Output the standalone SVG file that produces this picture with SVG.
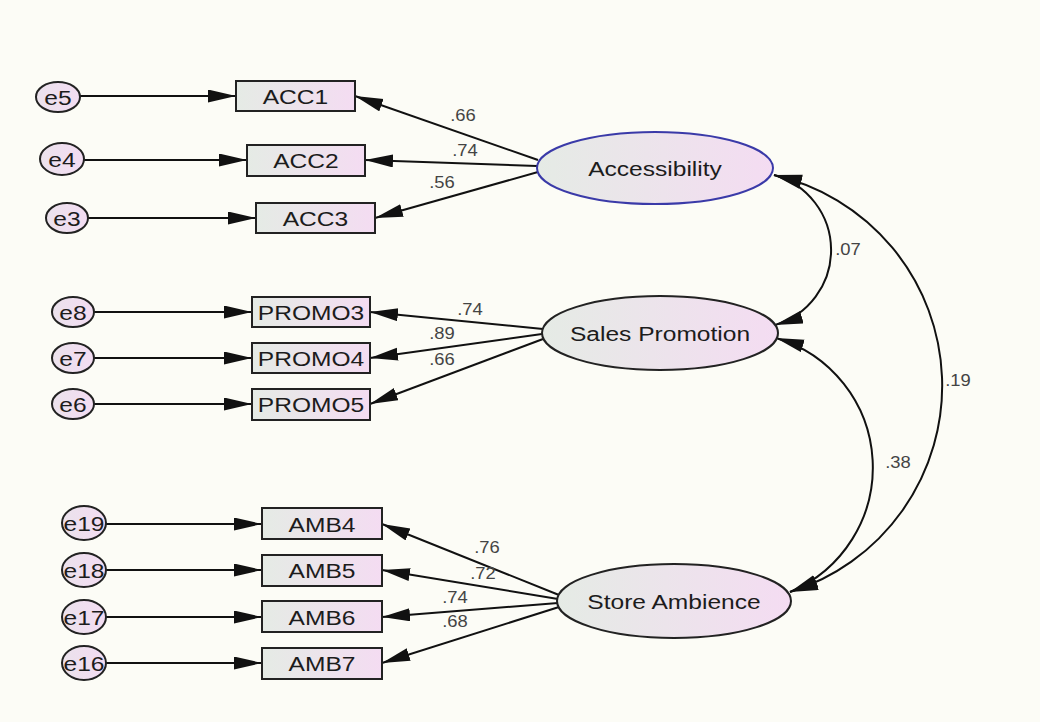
<svg xmlns="http://www.w3.org/2000/svg" width="1040" height="722" viewBox="0 0 1040 722">
  <defs>
    <linearGradient id="nodeFill" x1="0" y1="0" x2="1" y2="0">
      <stop offset="0" stop-color="#e5ebe5"/>
      <stop offset="1" stop-color="#f4dcf2"/>
    </linearGradient>
    <linearGradient id="errFill" x1="0" y1="0" x2="1" y2="0">
      <stop offset="0" stop-color="#ebe2ec"/>
      <stop offset="1" stop-color="#f3dcf2"/>
    </linearGradient>
    <marker id="arrow" markerUnits="userSpaceOnUse" markerWidth="30" markerHeight="14" refX="28" refY="6.5" orient="auto-start-reverse">
      <path d="M0,0 L28,6.5 L0,13 Z" fill="#111"/>
    </marker>
    <style>
      .box { fill: url(#nodeFill); stroke: #222; stroke-width: 2; }
      .latent { fill: url(#nodeFill); stroke: #222; stroke-width: 2; }
      .latent.blue { stroke: #3a3aa8; }
      .err { fill: url(#errFill); stroke: #222; stroke-width: 2; }
      .lbl { font-family: "Liberation Sans", Arial, sans-serif; font-size: 21px; fill: #1c1c1c; text-anchor: middle; }
      .coef { font-family: "Liberation Sans", Arial, sans-serif; font-size: 16px; fill: #444; text-anchor: middle; }
      .path { fill: none; stroke: #111; stroke-width: 2; marker-end: url(#arrow); }
      .cov { fill: none; stroke: #111; stroke-width: 2; marker-start: url(#arrow); marker-end: url(#arrow); }
    </style>
  </defs>

  <rect width="1040" height="722" fill="#fcfcf6"/>

  <!-- connectors: error terms, loadings, covariances -->
  <g id="connectors">
    <line class="path" x1="80" y1="96" x2="236" y2="96"/>
    <line class="path" x1="84" y1="160" x2="247" y2="160"/>
    <line class="path" x1="88" y1="218" x2="256" y2="218"/>
    <line class="path" x1="94" y1="312" x2="252" y2="312"/>
    <line class="path" x1="94" y1="358" x2="252" y2="358"/>
    <line class="path" x1="94" y1="404" x2="252" y2="404"/>
    <line class="path" x1="106" y1="524" x2="262" y2="524"/>
    <line class="path" x1="106" y1="570" x2="262" y2="570"/>
    <line class="path" x1="106" y1="617" x2="262" y2="617"/>
    <line class="path" x1="106" y1="663" x2="262" y2="663"/>

    <line class="path" x1="538" y1="160" x2="355" y2="96"/>
    <line class="path" x1="537" y1="166" x2="365" y2="160"/>
    <line class="path" x1="538" y1="172" x2="375" y2="218"/>

    <line class="path" x1="543" y1="329" x2="370" y2="312"/>
    <line class="path" x1="542" y1="334" x2="370" y2="358"/>
    <line class="path" x1="543" y1="339" x2="370" y2="404"/>

    <line class="path" x1="559" y1="595" x2="382" y2="524"/>
    <line class="path" x1="558" y1="599" x2="382" y2="570"/>
    <line class="path" x1="558" y1="603" x2="382" y2="617"/>
    <line class="path" x1="559" y1="607" x2="382" y2="663"/>

    <path class="cov" d="M774,175 A78,78 0 0 1 775,325"/>
    <path class="cov" d="M776,338 A135,135 0 0 1 790,592"/>
    <path class="cov" d="M774,175 A216,216 0 0 1 790,592"/>

    <text class="coef" transform="translate(463 121) scale(1.15 1)">.66</text>
    <text class="coef" transform="translate(465 156) scale(1.15 1)">.74</text>
    <text class="coef" transform="translate(442 188) scale(1.15 1)">.56</text>
    <text class="coef" transform="translate(470 315) scale(1.15 1)">.74</text>
    <text class="coef" transform="translate(442 339) scale(1.15 1)">.89</text>
    <text class="coef" transform="translate(442 365) scale(1.15 1)">.66</text>
    <text class="coef" transform="translate(487 553) scale(1.15 1)">.76</text>
    <text class="coef" transform="translate(483 579) scale(1.15 1)">.72</text>
    <text class="coef" transform="translate(455 603) scale(1.15 1)">.74</text>
    <text class="coef" transform="translate(455 627) scale(1.15 1)">.68</text>
    <text class="coef" transform="translate(848 255) scale(1.15 1)">.07</text>
    <text class="coef" transform="translate(958 386) scale(1.15 1)">.19</text>
    <text class="coef" transform="translate(898 468) scale(1.15 1)">.38</text>
  </g>

  <!-- latent variables -->
  <g id="accessibility">
    <ellipse class="latent blue" cx="655" cy="168" rx="118" ry="36"/>
    <text class="lbl" transform="translate(655 175.5) scale(1.17 1)">Accessibility</text>
  </g>
  <g id="sales-promotion">
    <ellipse class="latent" cx="660" cy="333" rx="118" ry="37"/>
    <text class="lbl" transform="translate(660 340.5) scale(1.17 1)">Sales Promotion</text>
  </g>
  <g id="store-ambience">
    <ellipse class="latent" cx="674" cy="601" rx="117" ry="37"/>
    <text class="lbl" transform="translate(674 608.5) scale(1.17 1)">Store Ambience</text>
  </g>

  <!-- observed indicators -->
  <g id="acc1"><rect class="box" x="236" y="81" width="119" height="30"/><text class="lbl" transform="translate(295.5 103.5) scale(1.17 1)">ACC1</text></g>
  <g id="acc2"><rect class="box" x="247" y="145" width="118" height="31"/><text class="lbl" transform="translate(306 168) scale(1.17 1)">ACC2</text></g>
  <g id="acc3"><rect class="box" x="256" y="203" width="119" height="30"/><text class="lbl" transform="translate(315.5 225.5) scale(1.17 1)">ACC3</text></g>
  <g id="promo3"><rect class="box" x="252" y="297" width="118" height="30"/><text class="lbl" transform="translate(311 319.5) scale(1.17 1)">PROMO3</text></g>
  <g id="promo4"><rect class="box" x="252" y="343" width="118" height="30"/><text class="lbl" transform="translate(311 365.5) scale(1.17 1)">PROMO4</text></g>
  <g id="promo5"><rect class="box" x="252" y="389" width="118" height="31"/><text class="lbl" transform="translate(311 412) scale(1.17 1)">PROMO5</text></g>
  <g id="amb4"><rect class="box" x="262" y="508" width="120" height="31"/><text class="lbl" transform="translate(322 531.5) scale(1.17 1)">AMB4</text></g>
  <g id="amb5"><rect class="box" x="262" y="555" width="120" height="31"/><text class="lbl" transform="translate(322 578) scale(1.17 1)">AMB5</text></g>
  <g id="amb6"><rect class="box" x="262" y="601" width="120" height="31"/><text class="lbl" transform="translate(322 624.5) scale(1.17 1)">AMB6</text></g>
  <g id="amb7"><rect class="box" x="262" y="648" width="120" height="31"/><text class="lbl" transform="translate(322 671) scale(1.17 1)">AMB7</text></g>

  <!-- error terms -->
  <g id="e5"><ellipse class="err" cx="58" cy="97" rx="22" ry="15"/><text class="lbl" transform="translate(58 104.5) scale(1.17 1)">e5</text></g>
  <g id="e4"><ellipse class="err" cx="62" cy="159" rx="22" ry="16"/><text class="lbl" transform="translate(62 166.5) scale(1.17 1)">e4</text></g>
  <g id="e3"><ellipse class="err" cx="67" cy="218" rx="21" ry="15"/><text class="lbl" transform="translate(67 225.5) scale(1.17 1)">e3</text></g>
  <g id="e8"><ellipse class="err" cx="73" cy="312" rx="21" ry="15"/><text class="lbl" transform="translate(73 319.5) scale(1.17 1)">e8</text></g>
  <g id="e7"><ellipse class="err" cx="73" cy="358" rx="21" ry="15"/><text class="lbl" transform="translate(73 365.5) scale(1.17 1)">e7</text></g>
  <g id="e6"><ellipse class="err" cx="73" cy="404" rx="21" ry="15"/><text class="lbl" transform="translate(73 411.5) scale(1.17 1)">e6</text></g>
  <g id="e19"><ellipse class="err" cx="84" cy="523" rx="22" ry="17"/><text class="lbl" transform="translate(84 531) scale(1.17 1)">e19</text></g>
  <g id="e18"><ellipse class="err" cx="84" cy="570" rx="22" ry="17"/><text class="lbl" transform="translate(84 577.5) scale(1.17 1)">e18</text></g>
  <g id="e17"><ellipse class="err" cx="84" cy="617" rx="22" ry="17"/><text class="lbl" transform="translate(84 624.5) scale(1.17 1)">e17</text></g>
  <g id="e16"><ellipse class="err" cx="84" cy="663" rx="22" ry="17"/><text class="lbl" transform="translate(84 670.5) scale(1.17 1)">e16</text></g>
</svg>
